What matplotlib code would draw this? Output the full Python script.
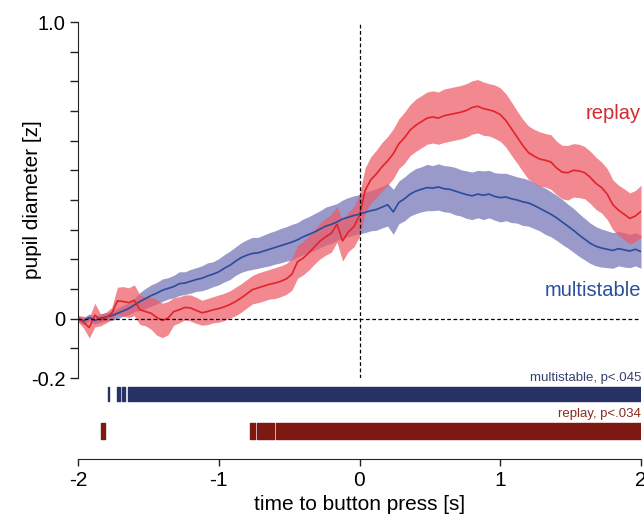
import numpy as np
import matplotlib
matplotlib.use("Agg")
import matplotlib.pyplot as plt
from matplotlib.ticker import FixedLocator, FixedFormatter

plt.rcParams['font.family'] = ['Liberation Sans', 'DejaVu Sans']

# time to button press [s], one sample every 40 ms
t = np.linspace(-2, 2, 101)

# multistable: mean pupil diameter and SEM [z]
multi_mean = [
    0.000, -0.008, 0.004, -0.006, 0.002, 0.006, 0.010, 0.018, 0.026, 0.034,
    0.046, 0.058, 0.068, 0.078, 0.086, 0.096, 0.102, 0.108, 0.118, 0.120,
    0.126, 0.132, 0.136, 0.144, 0.150, 0.158, 0.170, 0.180, 0.194, 0.206,
    0.214, 0.220, 0.222, 0.228, 0.234, 0.240, 0.246, 0.252, 0.258, 0.266,
    0.276, 0.284, 0.292, 0.302, 0.312, 0.318, 0.326, 0.336, 0.342, 0.348,
    0.352, 0.358, 0.364, 0.368, 0.376, 0.384, 0.360, 0.392, 0.404, 0.420,
    0.430, 0.436, 0.442, 0.440, 0.444, 0.438, 0.436, 0.430, 0.424, 0.418,
    0.414, 0.420, 0.416, 0.420, 0.412, 0.408, 0.410, 0.404, 0.400, 0.394,
    0.390, 0.382, 0.372, 0.362, 0.352, 0.340, 0.326, 0.312, 0.298, 0.282,
    0.268, 0.254, 0.244, 0.238, 0.234, 0.230, 0.236, 0.232, 0.228, 0.234,
    0.226]
multi_sem = [
    0.010, 0.012, 0.012, 0.012, 0.014, 0.014, 0.016, 0.018, 0.018, 0.020,
    0.022, 0.030, 0.034, 0.036, 0.036, 0.038, 0.036, 0.038, 0.040, 0.038,
    0.040, 0.040, 0.042, 0.044, 0.042, 0.044, 0.046, 0.048, 0.048, 0.050,
    0.052, 0.054, 0.052, 0.054, 0.056, 0.056, 0.058, 0.058, 0.060, 0.058,
    0.060, 0.060, 0.062, 0.062, 0.064, 0.064, 0.062, 0.064, 0.066, 0.066,
    0.066, 0.068, 0.068, 0.070, 0.070, 0.072, 0.076, 0.072, 0.074, 0.074,
    0.076, 0.076, 0.078, 0.076, 0.078, 0.078, 0.078, 0.080, 0.078, 0.080,
    0.080, 0.080, 0.082, 0.080, 0.080, 0.082, 0.080, 0.080, 0.078, 0.080,
    0.078, 0.078, 0.076, 0.078, 0.076, 0.076, 0.076, 0.074, 0.074, 0.072,
    0.070, 0.068, 0.066, 0.064, 0.062, 0.060, 0.058, 0.058, 0.056, 0.056,
    0.056]

# replay: mean pupil diameter and SEM [z]
replay_mean = [
    0.000, -0.012, -0.030, 0.012, -0.004, 0.004, 0.018, 0.060, 0.058, 0.054,
    0.062, 0.030, 0.024, 0.018, 0.004, -0.006, 0.002, 0.024, 0.030, 0.038,
    0.036, 0.028, 0.020, 0.024, 0.030, 0.034, 0.040, 0.048, 0.058, 0.070,
    0.084, 0.098, 0.104, 0.110, 0.116, 0.120, 0.126, 0.134, 0.150, 0.192,
    0.204, 0.222, 0.242, 0.262, 0.276, 0.288, 0.318, 0.262, 0.292, 0.310,
    0.348, 0.432, 0.468, 0.488, 0.512, 0.532, 0.556, 0.590, 0.610, 0.636,
    0.652, 0.664, 0.676, 0.680, 0.676, 0.684, 0.688, 0.692, 0.696, 0.702,
    0.712, 0.716, 0.708, 0.704, 0.698, 0.688, 0.668, 0.640, 0.612, 0.584,
    0.560, 0.548, 0.538, 0.534, 0.528, 0.508, 0.494, 0.492, 0.500, 0.498,
    0.492, 0.476, 0.456, 0.442, 0.420, 0.384, 0.366, 0.352, 0.338, 0.346,
    0.362]
replay_sem = [
    0.010, 0.020, 0.035, 0.040, 0.020, 0.018, 0.020, 0.046, 0.050, 0.050,
    0.052, 0.050, 0.048, 0.054, 0.060, 0.058, 0.056, 0.046, 0.044, 0.042,
    0.044, 0.044, 0.042, 0.044, 0.044, 0.046, 0.046, 0.046, 0.048, 0.048,
    0.048, 0.048, 0.050, 0.050, 0.050, 0.052, 0.052, 0.052, 0.054, 0.056,
    0.056, 0.058, 0.058, 0.060, 0.062, 0.064, 0.060, 0.068, 0.066, 0.068,
    0.072, 0.076, 0.078, 0.080, 0.082, 0.082, 0.084, 0.084, 0.086, 0.086,
    0.088, 0.088, 0.088, 0.088, 0.088, 0.090, 0.090, 0.090, 0.090, 0.090,
    0.090, 0.090, 0.090, 0.088, 0.090, 0.090, 0.090, 0.090, 0.088, 0.088,
    0.090, 0.090, 0.092, 0.090, 0.092, 0.090, 0.090, 0.092, 0.090, 0.090,
    0.088, 0.088, 0.088, 0.086, 0.086, 0.084, 0.084, 0.086, 0.086, 0.086,
    0.088]

# significant clusters (start, end) in seconds
multi_sig = [(-1.789, -1.781), (-1.721, -1.699), (-1.690, -1.664), (-1.645, 2.0)]
replay_sig = [(-1.837, -1.808), (-0.778, -0.739), (-0.730, -0.607), (-0.593, 2.0)]
multi_p = "multistable, p<.045"
replay_p = "replay, p<.034"

yticks = [-0.2, -0.1, 0, 0.1, 0.2, 0.3, 0.4, 0.5, 0.6, 0.7, 0.8, 0.9, 1.0]
ytick_labels = ["-0.2", "", "0", "", "", "", "", "", "", "", "", "", "1.0"]
xticks = [-2, -1, 0, 1, 2]

c_red, c_red_band = "#e2232b", "#ee5a66"
c_blue, c_blue_band = "#2a4c9c", "#5a5aaa"

W, H = 644, 514
fig = plt.figure(figsize=(W / 100, H / 100), dpi=100)
ax = fig.add_axes([78 / W, 1 - 378 / H, 563 / W, 356 / H])
ax2 = fig.add_axes([78 / W, 1 - 459 / H, 563 / W, 79 / H])

mm, ms = np.array(multi_mean), np.array(multi_sem)
rm, rs = np.array(replay_mean), np.array(replay_sem)

ax.fill_between(t, mm - ms, mm + ms, color=c_blue_band, alpha=0.62, lw=0)
ax.fill_between(t, rm - rs, rm + rs, color=c_red_band, alpha=0.72, lw=0)
ax.plot(t, mm, color=c_blue, lw=1.2)
ax.plot(t, rm, color=c_red, lw=1.2)

ax.axhline(0, color="black", lw=0.9, ls=(0, (3, 2)))
ax.axvline(0, color="black", lw=0.9, ls=(0, (3, 2)))

ax.text(2.0, 0.69, "replay", color="#d42a30", fontsize=14.5,
        ha="right", va="center")
ax.text(2.0, 0.095, "multistable", color="#2a4f9c", fontsize=14.5,
        ha="right", va="center")

ax.set_xlim(-2, 2)
ax.set_ylim(-0.2, 1.0)
for s in ["top", "right", "bottom"]:
    ax.spines[s].set_visible(False)
ax.spines["left"].set_color("#222222")
ax.set_xticks([])
ax.yaxis.set_major_locator(FixedLocator(yticks))
ax.yaxis.set_major_formatter(FixedFormatter(ytick_labels))
ax.tick_params(axis="y", length=6, width=1, color="#222222",
               labelsize=14.5, pad=3)
ax.set_ylabel("pupil diameter [z]", fontsize=15)
ax.yaxis.set_label_coords(-0.064, 0.5)

# cluster bars below the traces
ax2.broken_barh([(a, b - a) for a, b in multi_sig], (58, 14), color="#283266")
ax2.broken_barh([(a, b - a) for a, b in replay_sig], (20, 16), color="#7e1812")
ax2.text(2.0, 81.5, multi_p, color="#35406e", fontsize=9.5,
         ha="right", va="center", clip_on=False)
ax2.text(2.0, 45, replay_p, color="#8a2a22", fontsize=9.5,
         ha="right", va="center", clip_on=False)

ax2.set_xlim(-2, 2)
ax2.set_ylim(0, 79)
for s in ["top", "right", "left"]:
    ax2.spines[s].set_visible(False)
ax2.spines["bottom"].set_color("#222222")
ax2.set_yticks([])
ax2.set_xticks(xticks)
ax2.set_xticklabels([str(v) for v in xticks])
ax2.tick_params(axis="x", length=5, width=1, color="#222222",
                labelsize=15, pad=4)
ax2.set_xlabel("time to button press [s]", fontsize=15)
ax2.xaxis.set_label_coords(0.5, -0.456)

fig.savefig("out.png", dpi=100)
